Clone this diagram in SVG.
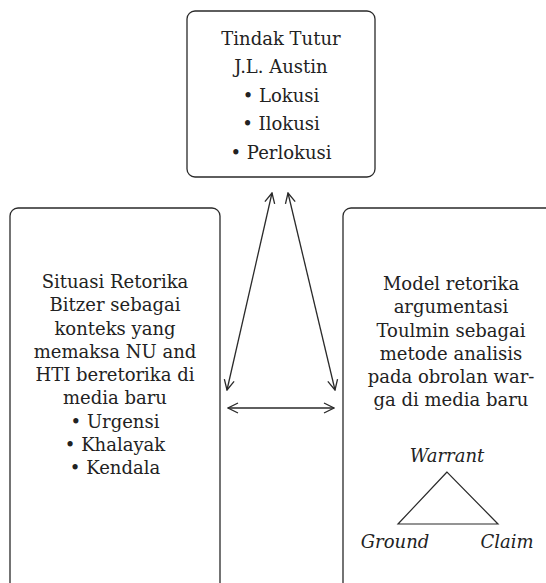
<svg xmlns="http://www.w3.org/2000/svg" width="546" height="583" viewBox="0 0 546 583">
<style>
.box{fill:#fff;stroke:#2a2a2a;stroke-width:1.3}
.t{font-family:"DejaVu Serif","Liberation Serif",serif;font-size:18px;fill:#222;text-anchor:middle}
.i{font-style:italic}
.c{fill:none;stroke:#2a2a2a;stroke-width:1.3}
</style>
<defs>
<marker id="ah" viewBox="0 0 12 12" refX="11" refY="6" markerWidth="12" markerHeight="12" markerUnits="userSpaceOnUse" orient="auto-start-reverse">
<path d="M1,1 L11,6 L1,11" fill="none" stroke="#2a2a2a" stroke-width="1.3"/>
</marker>
</defs>
<rect width="546" height="583" fill="#fff"/>
<g id="top">
<rect class="box" x="187" y="11" width="188" height="166" rx="8"/>
<text class="t" x="281" y="45">Tindak Tutur</text>
<text class="t" x="281" y="73">J.L. Austin</text>
<text class="t" x="281" y="102">• Lokusi</text>
<text class="t" x="281" y="130">• Ilokusi</text>
<text class="t" x="281" y="159">• Perlokusi</text>
</g>
<g id="left">
<rect class="box" x="10" y="208" width="210" height="390" rx="8"/>
<text class="t" x="115" y="288">Situasi Retorika</text>
<text class="t" x="115" y="311">Bitzer sebagai</text>
<text class="t" x="115" y="335">konteks yang</text>
<text class="t" x="115" y="358">memaksa NU and</text>
<text class="t" x="115" y="381">HTI beretorika di</text>
<text class="t" x="115" y="404">media baru</text>
<text class="t" x="115" y="428">• Urgensi</text>
<text class="t" x="115" y="451">• Khalayak</text>
<text class="t" x="115" y="474">• Kendala</text>
</g>
<g id="right">
<rect class="box" x="343" y="208" width="220" height="390" rx="8"/>
<text class="t" x="451" y="290">Model retorika</text>
<text class="t" x="451" y="313">argumentasi</text>
<text class="t" x="451" y="337">Toulmin sebagai</text>
<text class="t" x="451" y="360">metode analisis</text>
<text class="t" x="451" y="383">pada obrolan war-</text>
<text class="t" x="451" y="406">ga di media baru</text>
<text class="t i" x="447" y="462">Warrant</text>
<polygon points="447,472 398,524 498,524" fill="none" stroke="#2a2a2a" stroke-width="1.2"/>
<text class="t i" x="395" y="548">Ground</text>
<text class="t i" x="507" y="548">Claim</text>
</g>
<g id="connectors">
<line class="c" x1="272" y1="193" x2="227" y2="390" marker-start="url(#ah)" marker-end="url(#ah)"/>
<line class="c" x1="288" y1="193" x2="335" y2="390" marker-start="url(#ah)" marker-end="url(#ah)"/>
<line class="c" x1="228" y1="408" x2="334" y2="408" marker-start="url(#ah)" marker-end="url(#ah)"/>
</g>
</svg>
